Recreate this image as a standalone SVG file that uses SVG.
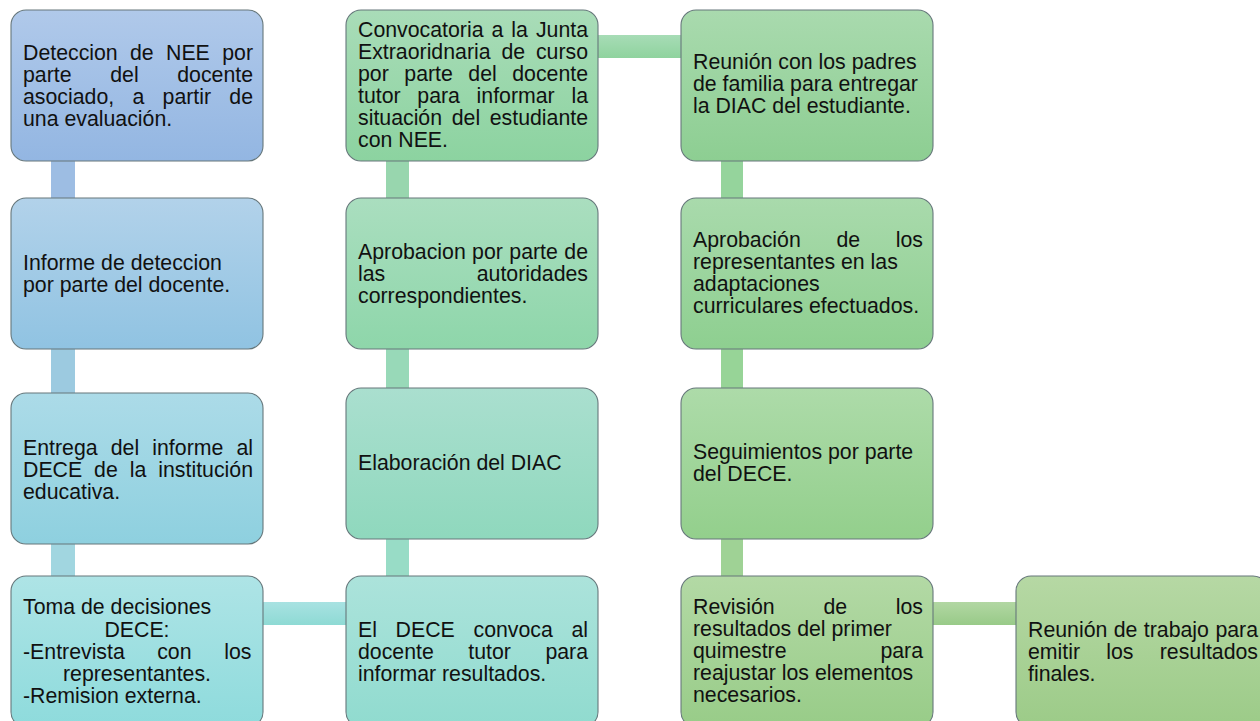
<svg xmlns="http://www.w3.org/2000/svg" width="1260" height="721" viewBox="0 0 1260 721">
<defs>
<linearGradient id="g11" x1="0" y1="0" x2="0" y2="1"><stop offset="0" stop-color="#b0c9ea"/><stop offset="1" stop-color="#93b6e2"/></linearGradient>
<linearGradient id="g12" x1="0" y1="0" x2="0" y2="1"><stop offset="0" stop-color="#b2d2ea"/><stop offset="1" stop-color="#90c3e2"/></linearGradient>
<linearGradient id="g13" x1="0" y1="0" x2="0" y2="1"><stop offset="0" stop-color="#acdbe8"/><stop offset="1" stop-color="#8ed0df"/></linearGradient>
<linearGradient id="g14" x1="0" y1="0" x2="0" y2="1"><stop offset="0" stop-color="#aee4e6"/><stop offset="1" stop-color="#8edbdc"/></linearGradient>
<linearGradient id="g21" x1="0" y1="0" x2="0" y2="1"><stop offset="0" stop-color="#a9dcb8"/><stop offset="1" stop-color="#8cd3a0"/></linearGradient>
<linearGradient id="g22" x1="0" y1="0" x2="0" y2="1"><stop offset="0" stop-color="#aadebf"/><stop offset="1" stop-color="#8ed6aa"/></linearGradient>
<linearGradient id="g23" x1="0" y1="0" x2="0" y2="1"><stop offset="0" stop-color="#aadfcf"/><stop offset="1" stop-color="#8fd8bd"/></linearGradient>
<linearGradient id="g24" x1="0" y1="0" x2="0" y2="1"><stop offset="0" stop-color="#ace3db"/><stop offset="1" stop-color="#90dbcf"/></linearGradient>
<linearGradient id="g31" x1="0" y1="0" x2="0" y2="1"><stop offset="0" stop-color="#a9daae"/><stop offset="1" stop-color="#8dce92"/></linearGradient>
<linearGradient id="g32" x1="0" y1="0" x2="0" y2="1"><stop offset="0" stop-color="#a9daac"/><stop offset="1" stop-color="#8ecf90"/></linearGradient>
<linearGradient id="g33" x1="0" y1="0" x2="0" y2="1"><stop offset="0" stop-color="#addba9"/><stop offset="1" stop-color="#93cf8c"/></linearGradient>
<linearGradient id="g34" x1="0" y1="0" x2="0" y2="1"><stop offset="0" stop-color="#b3d9a5"/><stop offset="1" stop-color="#98cc88"/></linearGradient>
<linearGradient id="g44" x1="0" y1="0" x2="0" y2="1"><stop offset="0" stop-color="#b6d8a4"/><stop offset="1" stop-color="#9ccb88"/></linearGradient>
<linearGradient id="h1" x1="0" y1="0" x2="0" y2="1"><stop offset="0" stop-color="#a8e2e2"/><stop offset="1" stop-color="#8edad4"/></linearGradient>
<linearGradient id="h2" x1="0" y1="0" x2="0" y2="1"><stop offset="0" stop-color="#a7dcb6"/><stop offset="1" stop-color="#8fd39e"/></linearGradient>
<linearGradient id="h3" x1="0" y1="0" x2="0" y2="1"><stop offset="0" stop-color="#b2d7a3"/><stop offset="1" stop-color="#98ca88"/></linearGradient>
</defs>
<style>
.box{stroke:#66777b;stroke-width:1.1}
text{font-family:"Liberation Sans",Arial,sans-serif;font-size:21.3px;fill:#111}
.e{text-anchor:end}
.m{text-anchor:middle}
</style>
<g id="connectors">
<rect x="51" y="155" width="24" height="48" fill="#9dbde3"/>
<rect x="51" y="343" width="24" height="55" fill="#9ccae0"/>
<rect x="51" y="538" width="24" height="43" fill="#a1d6e0"/>
<rect x="386" y="155" width="23" height="48" fill="#98d6ae"/>
<rect x="386" y="343" width="23" height="50" fill="#98d9b8"/>
<rect x="386" y="533" width="23" height="48" fill="#98dcc6"/>
<rect x="721" y="155" width="22" height="48" fill="#95d49c"/>
<rect x="721" y="343" width="22" height="50" fill="#97d497"/>
<rect x="721" y="533" width="22" height="48" fill="#9fd295"/>
<rect x="257" y="602" width="95" height="23" fill="url(#h1)"/>
<rect x="592" y="35" width="95" height="23" fill="url(#h2)"/>
<rect x="927" y="602" width="95" height="23" fill="url(#h3)"/>
</g>
<g id="n11"><rect class="box" x="11" y="10" width="252" height="151" rx="15" fill="url(#g11)"/>
<text x="23" y="60">Deteccion</text><text x="130" y="60">de</text><text x="166" y="60">NEE</text><text class="e" x="253" y="60">por</text>
<text x="23" y="81.9">parte</text><text x="110.2" y="81.9">del</text><text class="e" x="253" y="81.9">docente</text>
<text x="23" y="103.8">asociado,</text><text x="132.5" y="103.8">a</text><text x="162.6" y="103.8">partir</text><text class="e" x="253" y="103.8">de</text>
<text x="23" y="125.7">una evaluación.</text></g>
<g id="n12"><rect class="box" x="11" y="198" width="252" height="151" rx="15" fill="url(#g12)"/>
<text x="23" y="270">Informe de deteccion</text><text x="23" y="292">por parte del docente.</text></g>
<g id="n13"><rect class="box" x="11" y="393" width="252" height="151" rx="15" fill="url(#g13)"/>
<text x="23" y="455">Entrega</text><text x="110.7" y="455">del</text><text x="152.3" y="455">informe</text><text class="e" x="253" y="455">al</text>
<text x="23" y="477">DECE</text><text x="94.1" y="477">de</text><text x="129.8" y="477">la</text><text class="e" x="253" y="477">institución</text>
<text x="23" y="499">educativa.</text></g>
<g id="n14"><rect class="box" x="11" y="576" width="252" height="151" rx="15" fill="url(#g14)"/>
<text x="23" y="614">Toma de decisiones</text>
<text class="m" x="137" y="636.5">DECE:</text>
<text x="23" y="659">-Entrevista</text><text x="157.2" y="659">con</text><text class="e" x="251.5" y="659">los</text>
<text class="m" x="137" y="681">representantes.</text>
<text x="23" y="703">-Remision externa.</text></g>
<g id="n21"><rect class="box" x="346" y="10" width="252" height="151" rx="15" fill="url(#g21)"/>
<text x="358" y="36.7">Convocatoria</text><text x="491.5" y="36.7">a</text><text x="511.3" y="36.7">la</text><text class="e" x="588" y="36.7">Junta</text>
<text x="358" y="58.7">Extraoridnaria</text><text x="501.4" y="58.7">de</text><text class="e" x="588" y="58.7">curso</text>
<text x="358" y="80.7">por</text><text x="404.3" y="80.7">parte</text><text x="468.3" y="80.7">del</text><text class="e" x="588" y="80.7">docente</text>
<text x="358" y="102.7">tutor</text><text x="417.3" y="102.7">para</text><text x="476.6" y="102.7">informar</text><text class="e" x="588" y="102.7">la</text>
<text x="358" y="124.7">situación</text><text x="451.7" y="124.7">del</text><text class="e" x="588" y="124.7">estudiante</text>
<text x="358" y="146.7">con NEE.</text></g>
<g id="n22"><rect class="box" x="346" y="198" width="252" height="151" rx="15" fill="url(#g22)"/>
<text x="358" y="258.7">Aprobacion</text><text x="472.1" y="258.7">por</text><text x="509.3" y="258.7">parte</text><text class="e" x="588" y="258.7">de</text>
<text x="358" y="280.7">las</text><text class="e" x="588" y="280.7">autoridades</text>
<text x="358" y="302.7">correspondientes.</text></g>
<g id="n23"><rect class="box" x="346" y="388" width="252" height="151" rx="15" fill="url(#g23)"/>
<text x="358" y="470">Elaboración del DIAC</text></g>
<g id="n24"><rect class="box" x="346" y="576" width="252" height="151" rx="15" fill="url(#g24)"/>
<text x="358" y="637">El</text><text x="395.6" y="637">DECE</text><text x="473.5" y="637">convoca</text><text class="e" x="588" y="637">al</text>
<text x="358" y="659">docente</text><text x="468.3" y="659">tutor</text><text class="e" x="588" y="659">para</text>
<text x="358" y="681">informar resultados.</text></g>
<g id="n31"><rect class="box" x="681" y="10" width="252" height="151" rx="15" fill="url(#g31)"/>
<text x="693" y="68.5">Reunión con los padres</text>
<text x="693" y="90.5">de familia para entregar</text>
<text x="693" y="112.5">la DIAC del estudiante.</text></g>
<g id="n32"><rect class="box" x="681" y="198" width="252" height="151" rx="15" fill="url(#g32)"/>
<text x="693" y="246.7">Aprobación</text><text x="836.4" y="246.7">de</text><text class="e" x="923" y="246.7">los</text>
<text x="693" y="268.7">representantes en las</text>
<text x="693" y="290.7">adaptaciones</text>
<text x="693" y="312.7">curriculares efectuados.</text></g>
<g id="n33"><rect class="box" x="681" y="388" width="252" height="151" rx="15" fill="url(#g33)"/>
<text x="693" y="459">Seguimientos por parte</text><text x="693" y="481">del DECE.</text></g>
<g id="n34"><rect class="box" x="681" y="576" width="252" height="151" rx="15" fill="url(#g34)"/>
<text x="693" y="614">Revisión</text><text x="823.4" y="614">de</text><text class="e" x="923" y="614">los</text>
<text x="693" y="636">resultados del primer</text>
<text x="693" y="658">quimestre</text><text class="e" x="923" y="658">para</text>
<text x="693" y="680">reajustar los elementos</text>
<text x="693" y="702">necesarios.</text></g>
<g id="n44"><rect class="box" x="1016" y="576" width="252" height="151" rx="15" fill="url(#g44)"/>
<text x="1028" y="637">Reunión</text><text x="1113.7" y="637">de</text><text x="1143.8" y="637">trabajo</text><text class="e" x="1258" y="637">para</text>
<text x="1028" y="659">emitir</text><text x="1106.3" y="659">los</text><text class="e" x="1258" y="659">resultados</text>
<text x="1028" y="681">finales.</text></g>
</svg>
